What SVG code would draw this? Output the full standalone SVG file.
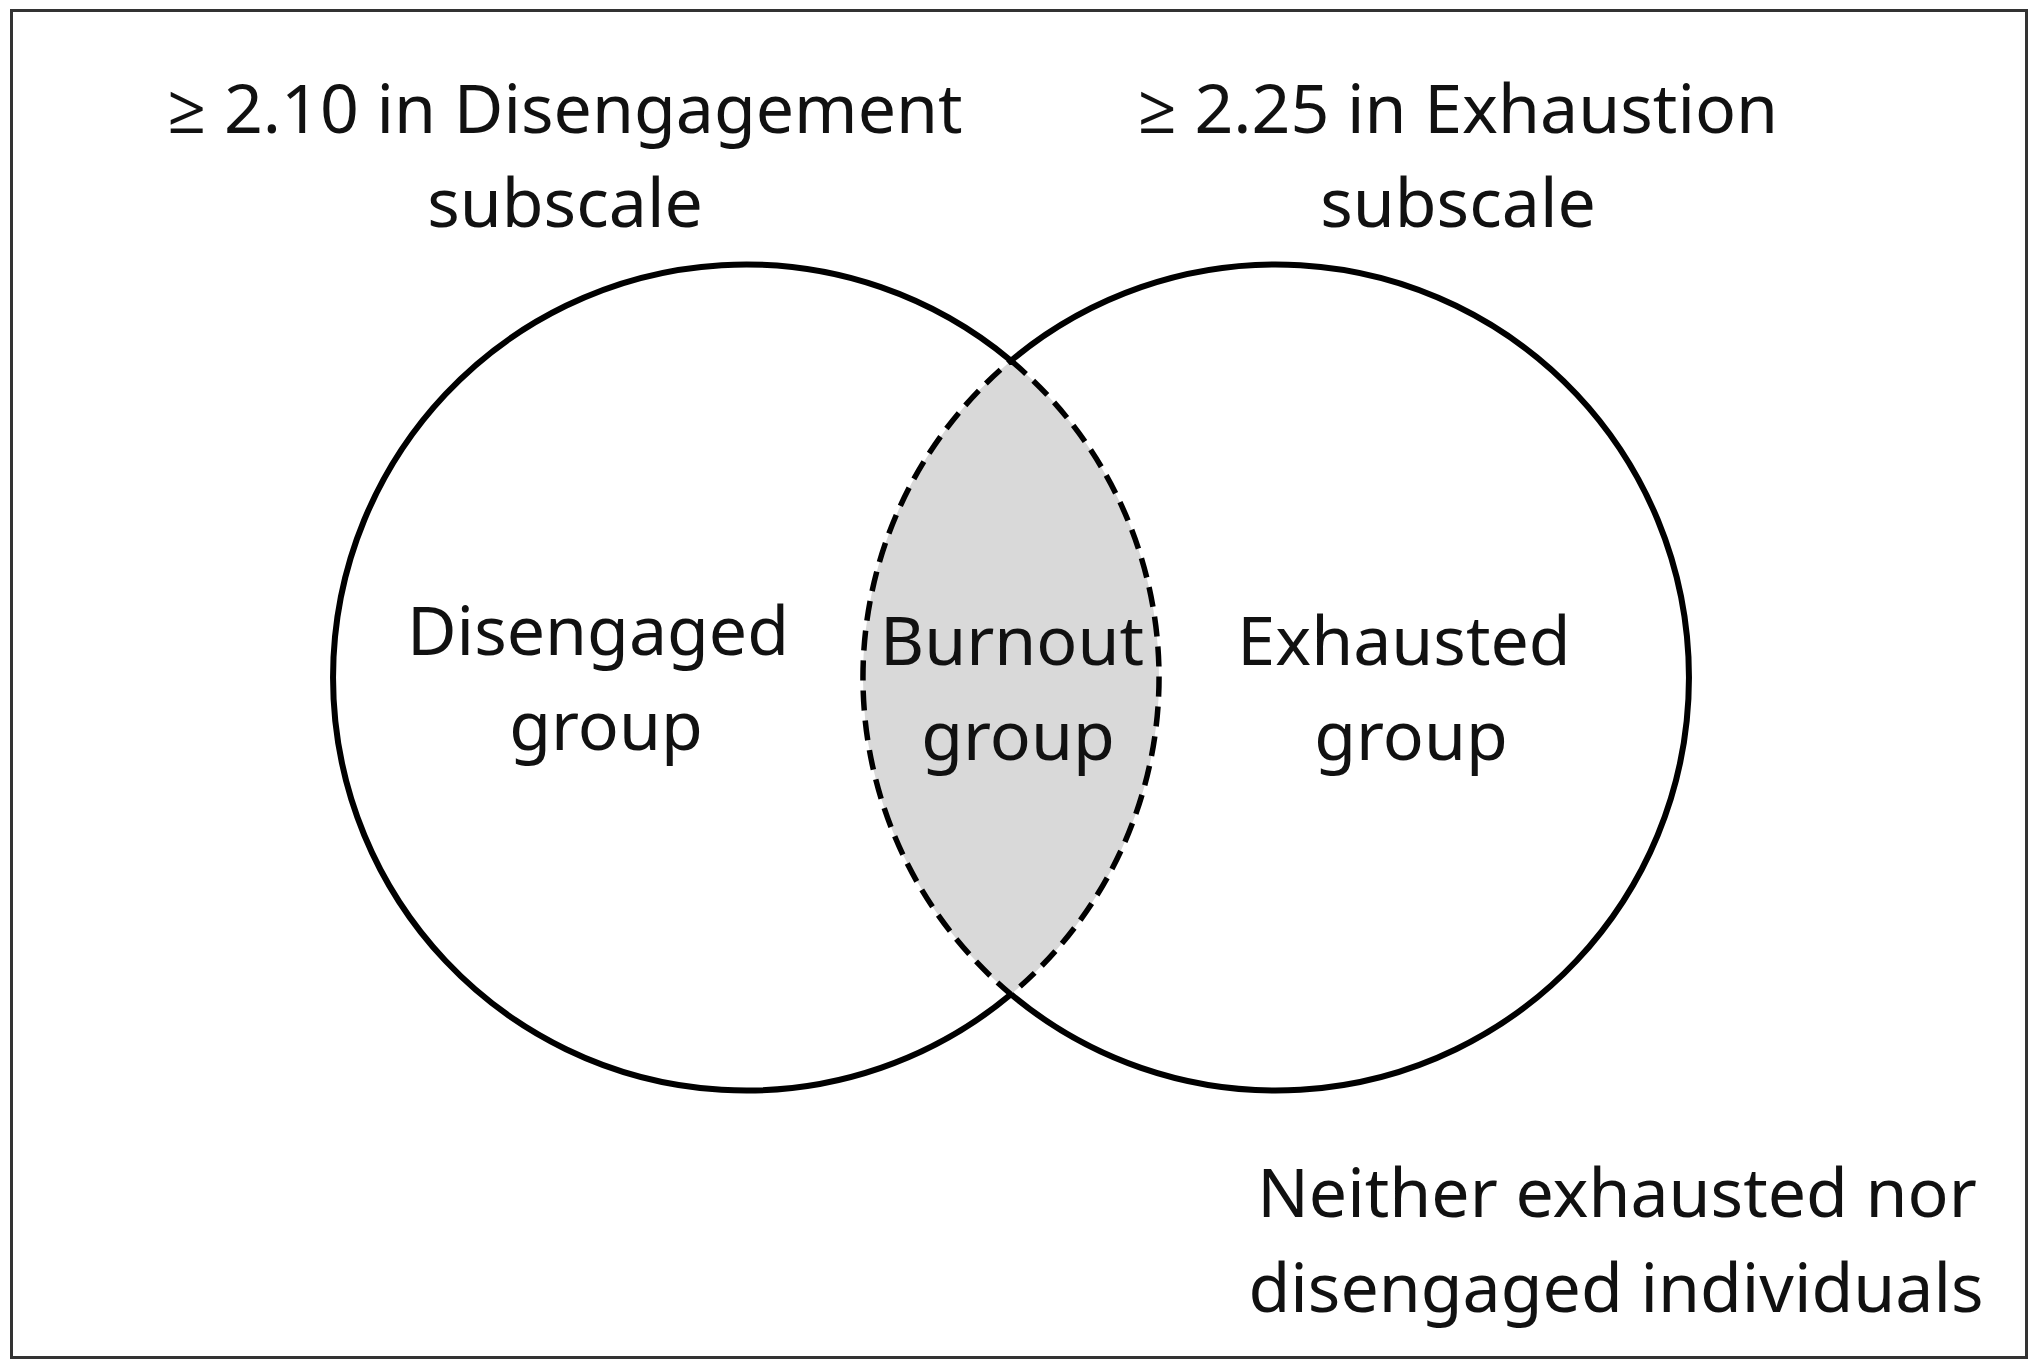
<svg xmlns="http://www.w3.org/2000/svg" width="2036" height="1359" viewBox="0 0 2036 1359">
  <style>
    .lbl { font-family: "Noto Sans", "Open Sans", "Liberation Sans", sans-serif; font-size: 68px; fill: #111; text-anchor: middle; }
    .solid { fill: none; stroke: #000; stroke-width: 6; }
    .lens { fill: #d9d9d9; stroke: #000; stroke-width: 5.5; stroke-dasharray: 20 10; }
  </style>
  <rect x="0" y="0" width="2036" height="1359" fill="#fff"/>
  <rect id="frame" x="11.5" y="10.5" width="2015" height="1347" fill="none" stroke="#333" stroke-width="3"/>

  <g id="burnout-group">
    <path class="lens" d="M 1011 360.7 A 413 413 0 0 1 1011 994.3 A 413 413 0 0 1 1011 360.7 Z"/>
    <text class="lbl" x="1012" y="665">Burnout</text>
    <text class="lbl" x="1018" y="760">group</text>
  </g>

  <g id="disengaged-group">
    <path class="solid" d="M 1011 360.7 A 413 413 0 1 0 1011 994.3"/>
    <text class="lbl" x="598" y="655">Disengaged</text>
    <text class="lbl" x="606" y="750">group</text>
  </g>

  <g id="exhausted-group">
    <path class="solid" d="M 1011 360.7 A 413 413 0 1 1 1011 994.3"/>
    <text class="lbl" x="1404" y="665">Exhausted</text>
    <text class="lbl" x="1411" y="760">group</text>
  </g>

  <g id="disengagement-criterion">
    <text class="lbl" x="565" y="133">≥ 2.10 in Disengagement</text>
    <text class="lbl" x="565" y="227">subscale</text>
  </g>

  <g id="exhaustion-criterion">
    <text class="lbl" x="1458" y="133">≥ 2.25 in Exhaustion</text>
    <text class="lbl" x="1458" y="227">subscale</text>
  </g>

  <g id="neither-group">
    <text class="lbl" x="1617" y="1217">Neither exhausted nor</text>
    <text class="lbl" x="1616" y="1312">disengaged individuals</text>
  </g>

  <g id="connectors"/>
</svg>
